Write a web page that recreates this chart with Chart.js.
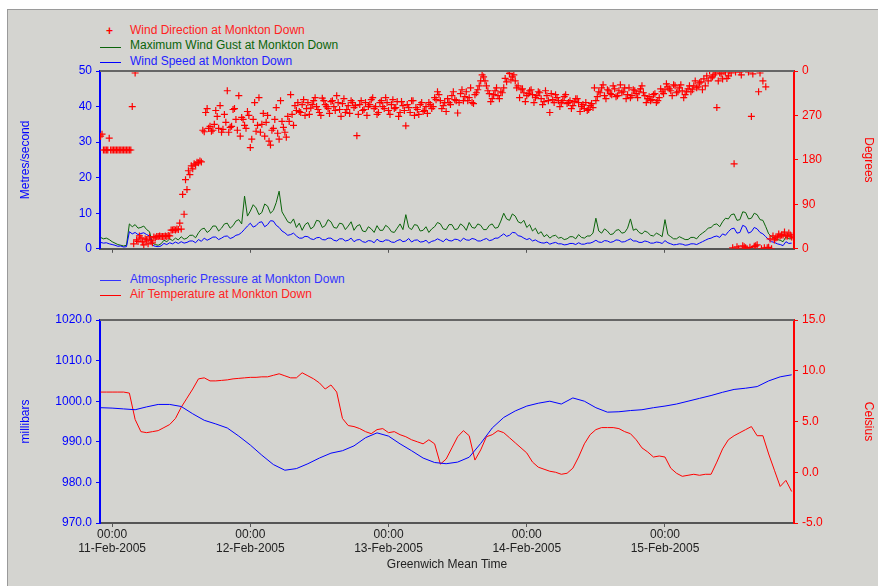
<!DOCTYPE html>
<html>
<head>
<meta charset="utf-8">
<script src="https://cdn.jsdelivr.net/npm/chart.js@4.4.1/dist/chart.umd.min.js"></script>
<style>
  html, body { margin: 0; padding: 0; background: #fff; }
  body { width: 878px; height: 586px; position: relative; overflow: hidden; font-family: "Liberation Sans", Arial, sans-serif; }
  #frame { position: absolute; left: 7px; top: 9px; right: -2px; bottom: -2px; background: #d4d4d0; border-left: 1px solid #9a9a9a; border-top: 1px solid #9a9a9a; }
  canvas { position: absolute; left: 0; }
  .key { position: absolute; left: 130px; font-size: 12px; line-height: 14px; white-space: nowrap; }
  .swatch { position: absolute; left: 100px; width: 21px; height: 1px; }
  .cross { position: absolute; left: 106px; font-size: 12px; font-weight: bold; line-height: 12px; color: #f00; }
</style>
</head>
<body>
<div id="frame"></div>

<div class="cross" style="top:25px">+</div>
<div class="key" style="top:23px; color:#f22">Wind Direction at Monkton Down</div>
<div class="swatch" style="top:47px; background:#0a640a"></div>
<div class="key" style="top:38px; color:#0a640a">Maximum Wind Gust at Monkton Down</div>
<div class="swatch" style="top:62px; background:#0000ff"></div>
<div class="key" style="top:54px; color:#22f">Wind Speed at Monkton Down</div>

<div class="swatch" style="top:280px; background:#3333ff"></div>
<div class="key" style="top:272px; color:#33f">Atmospheric Pressure at Monkton Down</div>
<div class="swatch" style="top:295px; background:#ff0000"></div>
<div class="key" style="top:287px; color:#f22">Air Temperature at Monkton Down</div>

<canvas id="wind" width="878" height="260" style="top:0"></canvas>
<canvas id="weather" width="878" height="326" style="top:260px"></canvas>

<script>
// hours relative to 11-Feb-2005 00:00 GMT
const X_MIN = -2.1
const X_MAX = 118.4

const tickHours = [0, 24, 48, 72, 96]
const tickTimes = ['00:00', '00:00', '00:00', '00:00', '00:00']
const tickDates = ['11-Feb-2005', '12-Feb-2005', '13-Feb-2005', '14-Feb-2005', '15-Feb-2005']

// wind speed + gust, every half hour from -2h (m/s), two values per row-hour
const windStart = -2
const windStep = 0.5
const windSpeed = [
  1.8, 1.6, 1.7, 1.4, 1.2, 1.0, 0.7, 0.8, 0.5, 0.6,       // -2 .. 2.5
  4.8, 4.2, 4.6, 4.0, 4.3, 4.5, 4.0, 3.6, 1.0, 0.7,       // 3 .. 7.5
  0.6, 0.8, 1.5, 1.2, 1.7, 1.4, 1.9, 1.5, 2.0, 1.6,       // 8 .. 12.5
  1.8, 2.2, 2.2, 1.7, 2.6, 2.1, 3.0, 2.4, 2.8, 3.3,       // 13 .. 17.5
  3.3, 2.6, 3.0, 3.5, 3.6, 2.9, 3.2, 3.8, 4.0, 4.6,       // 18 .. 22.5
  5.5, 6.4, 7.2, 6.1, 6.5, 7.4, 7.6, 6.2, 6.8, 7.9,       // 23 .. 27.5
  7.8, 6.6, 6.0, 5.0, 4.5, 3.8, 4.0, 4.4, 3.6, 3.0,       // 28 .. 32.5
  3.0, 3.5, 3.4, 2.8, 2.6, 3.1, 3.2, 2.6, 2.5, 3.0,       // 33 .. 37.5
  3.0, 2.4, 2.2, 2.8, 2.8, 2.2, 2.4, 3.0, 2.0, 2.5,       // 38 .. 42.5
  2.6, 2.0, 1.8, 2.3, 2.2, 1.7, 2.7, 2.1, 2.0, 2.5,       // 43 .. 47.5
  2.4, 1.9, 1.8, 2.3, 2.6, 2.0, 2.2, 2.9, 1.9, 2.4,       // 48 .. 52.5
  2.5, 1.9, 2.0, 2.4, 1.6, 2.1, 2.3, 2.8, 2.4, 2.0,       // 53 .. 57.5
  2.8, 2.3, 2.2, 2.7, 2.6, 2.1, 3.0, 2.5, 2.4, 2.9,       // 58 .. 62.5
  2.7, 2.2, 2.2, 2.6, 2.9, 2.3, 2.5, 3.0, 3.0, 3.6,       // 63 .. 67.5
  4.2, 3.5, 3.8, 4.6, 4.5, 3.7, 3.5, 3.0, 2.6, 2.9,       // 68 .. 72.5
  2.2, 2.5, 2.0, 1.7, 1.6, 1.9, 1.3, 1.6, 1.8, 1.4,       // 73 .. 77.5
  1.4, 1.1, 1.2, 1.5, 1.5, 1.2, 1.7, 1.3, 1.3, 1.6,       // 78 .. 82.5
  1.6, 1.9, 2.4, 1.9, 1.8, 2.3, 2.2, 1.8, 2.0, 2.5,       // 83 .. 87.5
  2.4, 1.9, 2.0, 2.4, 2.8, 2.2, 2.2, 1.8, 1.8, 2.2,       // 88 .. 92.5
  2.0, 1.6, 1.6, 1.9, 1.8, 1.5, 2.3, 1.7, 1.4, 1.1,       // 93 .. 97.5
  1.2, 1.4, 1.3, 1.0, 1.1, 1.4, 1.4, 1.2, 1.6, 2.0,       // 98 .. 102.5
  2.4, 2.8, 3.0, 3.4, 3.6, 3.2, 4.2, 3.8, 4.8, 5.6,       // 103 .. 107.5
  5.8, 4.4, 4.6, 6.6, 6.2, 4.4, 4.8, 6.0, 5.6, 4.6,       // 108 .. 112.5
  4.2, 3.4, 2.6, 2.0, 1.8, 1.4, 1.2, 0.9, 2.0, 1.5,       // 113 .. 117.5
  1.6                                                     // 118
]
const windGust = [
  3.2, 2.8, 3.0, 2.6, 2.0, 1.6, 1.2, 1.0, 0.8, 1.0,       // -2 .. 2.5
  7.0, 6.2, 6.8, 5.8, 6.0, 6.4, 5.4, 4.8, 1.6, 1.2,       // 3 .. 7.5
  1.0, 1.4, 2.4, 2.0, 2.8, 2.3, 3.0, 2.5, 3.4, 2.7,       // 8 .. 12.5
  3.0, 3.8, 3.8, 3.1, 4.5, 5.5, 5.8, 4.6, 5.2, 6.4,       // 13 .. 17.5
  6.4, 5.0, 5.8, 7.0, 7.2, 5.8, 6.5, 7.8, 8.2, 7.0,       // 18 .. 22.5
  14.8, 9.2, 10.6, 12.4, 11.5, 9.6, 10.2, 12.6, 12.0, 10.0, // 23 .. 27.5
  10.8, 13.0, 16.2, 10.4, 9.0, 7.6, 7.2, 8.4, 6.0, 7.2,   // 28 .. 32.5
  5.2, 6.8, 7.4, 5.6, 6.2, 8.0, 7.8, 6.0, 6.5, 8.2,       // 33 .. 37.5
  7.6, 6.0, 5.8, 7.2, 7.0, 5.4, 6.4, 7.6, 5.2, 6.4,       // 38 .. 42.5
  6.8, 5.0, 4.8, 6.2, 5.6, 4.6, 6.5, 5.2, 5.2, 6.6,       // 43 .. 47.5
  6.0, 4.8, 4.6, 5.8, 7.0, 5.4, 9.6, 6.0, 5.4, 6.8,       // 48 .. 52.5
  6.6, 5.0, 5.2, 6.2, 4.6, 5.6, 6.2, 7.4, 7.0, 5.6,       // 53 .. 57.5
  5.4, 6.8, 6.8, 5.4, 5.6, 7.0, 6.4, 5.2, 7.4, 6.0,       // 58 .. 62.5
  5.8, 7.0, 6.6, 5.4, 5.4, 6.6, 7.0, 5.8, 6.0, 7.8,       // 63 .. 67.5
  10.0, 8.4, 8.0, 9.8, 9.2, 7.6, 7.2, 8.0, 6.0, 6.8,      // 68 .. 72.5
  5.0, 5.8, 4.2, 4.8, 3.4, 4.0, 3.0, 3.6, 3.8, 3.0,       // 73 .. 77.5
  3.2, 2.6, 2.8, 3.4, 3.4, 2.8, 4.0, 3.2, 3.0, 3.6,       // 78 .. 82.5
  3.6, 4.4, 8.6, 5.0, 4.4, 5.6, 5.0, 4.0, 4.2, 5.2,       // 83 .. 87.5
  5.4, 4.4, 4.6, 5.8, 8.4, 5.2, 5.6, 4.6, 4.2, 5.0,       // 88 .. 92.5
  4.6, 3.8, 3.6, 4.4, 4.0, 3.4, 8.2, 4.0, 3.4, 2.8,       // 93 .. 97.5
  2.8, 3.4, 3.0, 2.6, 2.6, 3.2, 3.2, 2.8, 3.8, 4.4,       // 98 .. 102.5
  5.0, 5.8, 6.0, 6.8, 7.0, 6.2, 7.6, 8.6, 8.4, 9.6,       // 103 .. 107.5
  9.8, 8.0, 8.2, 10.4, 10.2, 8.4, 8.6, 10.0, 9.6, 8.2,    // 108 .. 112.5
  8.0, 6.2, 4.2, 3.4, 3.0, 2.6, 2.4, 2.0, 3.4, 2.8,       // 113 .. 117.5
  2.8                                                     // 118
]

// wind direction (degrees): readings on the hour / half hour from -2h ...
const dirStart = -2
const dirStep = 0.5
const windDirection = [
  228, 200, 200, 224, 200, 200, 200, 200, 200, 200, 200, 288, 356,   // -2 .. 3.5
  15, 22, 8, 18, 24, 12, 22,                                         // 4 .. 7
  25, 25, 25, 25, 26,                                                // 7.5 .. 9.5
  38, 38, 39, 40,                                                    // 10 .. 11.5
  70, 120, 150, 162, 170, 174, 176,                                  // 12 .. 15
  237, 284, 248, 240, 280, 244, 236, 272, 320, 246,                  // 15.5 ..
  282, 262, 310, 266, 250, 278, 205, 262, 238, 306,
  252, 228, 270, 210, 244, 286, 222, 258, 236, 268,
  312, 250, 280,                                                     // .. 31.5
  278, 292, 270, 296, 285, 300, 288, 276, 305, 292,                  // 32 ..
  284, 298, 288, 310, 282, 294, 276, 290, 300, 286,
  229, 292, 280, 296, 288, 302, 284, 272, 296, 288,
  306, 280, 292, 284, 298, 276, 290, 249, 286, 300,
  270, 282, 292, 278, 288, 296, 284, 306, 318, 300,
  290, 278,                                                          // .. 57.5
  296, 310, 302, 275, 314, 300, 318, 306, 296, 312,                  // 58 ..
  322, 340, 348, 330, 314, 304, 320, 310, 318, 326,
  338,                                                               // .. 68
  355, 348, 340, 330,                                                // 68.5 .. 70
  322, 316, 310, 320, 312, 306, 318, 304, 298, 310,                  // 70.5 ..
  276, 302, 312, 300, 296, 308, 294, 300, 290, 304,
  296, 288, 284, 280, 290, 286,                                      // .. 83
  300, 318, 326, 310, 322, 314, 330, 308, 320, 316,                  // 83.5 ..
  326, 312, 306, 322, 314, 318, 330, 310, 304, 300,
  312, 296, 306, 318,                                                // .. 95
  322, 328, 320, 332, 316, 326, 320, 312, 324, 318,                  // 95.5 ..
  330, 326, 336, 322, 330, 340,                                      // .. 103
  346, 352, 286, 356, 344, 358, 350, 356, 172, 4,                    // 103.5 ..
  358, 6, 2, 358, 268, 5, 8, 356, 340, 328,                          // .. 113
  3, 0, 18, 24, 26, 28, 26, 32, 24, 22                               // 113.5 .. 118
]
// ... and the readings at quarter past / quarter to, from -1.75h
const dirStartB = -1.75
const windDirectionB = [
  232, 200, 200, 200, 200, 200, 200, 200, 200, 200, 200,             // -1.75 .. 3.25
  10, 18, 26, 14, 20, 10, 16, 24,                                    // 3.75 .. 7.25
  25, 26, 25, 26, 27,                                                // 7.75 .. 9.75
  38, 39, 40, 52,                                                    // 10.25 .. 11.75
  110, 140, 158, 168, 172, 175, 178,                                 // 12.25 .. 15.25
  240, 276, 244, 238, 252, 268, 290, 242, 256, 236,                  // 15.75 ..
  248, 284, 240, 228, 262, 244, 270, 222, 296, 250,
  236, 274, 256, 218, 240, 262, 234, 300, 246, 226,
  258, 272, 290,                                                     // .. 31.75
  296, 276, 302, 284, 272, 292, 306, 282, 270, 300,                  // 32.25 ..
  288, 274, 300, 280, 296, 268, 304, 282, 274, 296,
  290, 272, 300, 282, 270, 292, 306, 288, 276, 300,
  284, 296, 272, 302, 286, 268, 298, 280, 292, 276,
  300, 286, 272, 296, 280, 274, 292, 288, 302, 312,
  284, 296,                                                          // .. 57.75
  304, 292, 318, 300, 296, 322, 308, 300, 326, 294,                  // 58.25 ..
  316, 330, 352, 340, 320, 298, 312, 326, 304, 316,
  345,                                                               // .. 68.25
  360, 342, 352, 326,                                                // 68.75 .. 70.25
  306, 324, 298, 314, 322, 296, 310, 316, 292, 320,                  // 70.75 ..
  300, 314, 296, 306, 288, 300, 312, 296, 284, 298,
  304, 278, 292, 296, 282, 294,                                      // .. 83.25
  326, 308, 316, 332, 304, 320, 312, 324, 310, 332,                  // 83.75 ..
  318, 304, 326, 310, 320, 306, 324, 316, 296, 308,
  302, 314, 300, 324,                                                // .. 95.25
  314, 334, 324, 310, 330, 318, 332, 306, 318, 330,                  // 95.75 ..
  322, 340, 328, 338, 344, 350,                                      // .. 103.25
  360, 348, 356, 340, 354, 360, 345, 360, 2, 358,                    // 103.75 ..
  0, 352, 4, 0, 3, 354, 6, 318, 0, 2,                                // .. 113.25
  2, 20, 26, 22, 30, 28, 34, 26, 28                                  // 113.75 .. 117.75
]

// pressure, every 2 hours from -2h (mb)
const pressStart = -2
const pressStep = 2
const pressure = [
  998.4, 998.3, 998.1, 997.9, 998.6, 999.2, 999.2, 998.7, 996.9, 995.3,
  994.4, 993.4, 991.4, 989.2, 986.7, 984.4, 983.0, 983.4, 984.6, 986.0,
  987.2, 987.8, 989.0, 991.0, 992.2, 991.4, 989.5, 987.8, 986.0, 984.9,
  984.6, 985.0, 986.2, 989.6, 993.4, 996.0, 997.6, 998.8, 999.5, 1000.0,
  999.3, 1000.8, 1000.0, 998.4, 997.3, 997.4, 997.7, 997.9, 998.4, 998.8,
  999.3, 1000.0, 1000.7, 1001.4, 1002.2, 1002.9, 1003.2, 1003.6, 1005.0, 1006.0,
  1006.5
]

// air temperature, hourly from -2h (C)
const tempStart = -2
const tempStep = 1
const temperature = [
  7.9, 7.9, 7.9, 7.9, 7.9, 7.8, 5.2, 4.0, 3.9, 4.0,
  4.1, 4.4, 4.7, 5.3, 6.4, 7.3, 8.2, 9.2, 9.3, 9.0,
  9.0, 9.05, 9.1, 9.2, 9.25, 9.3, 9.35, 9.35, 9.4, 9.4,
  9.55, 9.7, 9.5, 9.3, 9.3, 9.8, 9.5, 9.2, 8.8, 8.2,
  8.6, 7.9, 5.3, 4.6, 4.5, 4.3, 4.0, 3.8, 4.2, 4.3,
  3.9, 4.0, 3.7, 3.5, 3.2, 3.0, 2.8, 3.2, 2.8, 0.8,
  1.3, 2.4, 3.5, 4.1, 3.6, 1.2, 2.2, 3.5, 3.7, 4.1,
  3.9, 3.4, 2.9, 2.4, 1.9, 1.0, 0.5, 0.3, 0.1, 0.0,
  -0.2, -0.1, 0.4, 1.5, 2.8, 3.7, 4.2, 4.4, 4.4, 4.4,
  4.3, 4.0, 3.8, 3.2, 2.4, 2.0, 1.5, 1.6, 1.5, 0.4,
  -0.1, -0.4, -0.3, -0.2, -0.3, -0.2, -0.2, 1.0, 2.3, 3.2,
  3.6, 3.9, 4.2, 4.5, 3.6, 3.6, 1.8, 0.2, -1.4, -0.8,
  -1.9
]

const BLUE = '#0000ff'
const RED = '#ff0000'
const GREEN = '#0a640a'
const AXIS = '#555'
const font = { family: '"Liberation Sans", Arial, sans-serif', size: 12 }

function series(start, step, values) {
  return values.map((v, i) => ({ x: start + i * step, y: v }))
}

// grey line along the top of each plot area
const plotTop = {
  id: 'plotTop',
  afterDatasetsDraw(chart) {
    const { ctx, chartArea: a } = chart
    ctx.save()
    ctx.strokeStyle = '#666'
    ctx.lineWidth = 2
    ctx.beginPath()
    ctx.moveTo(a.left, a.top)
    ctx.lineTo(a.right, a.top)
    ctx.stroke()
    ctx.restore()
  }
}

function yAxis(position, color, min, max, step, title, fmt) {
  return {
    position: position,
    min: min,
    max: max,
    afterFit: s => { s.width = position === 'left' ? 100 : 84 },
    ticks: { stepSize: step, color: color, font: font, padding: 4, callback: fmt },
    grid: { drawOnChartArea: false, tickLength: 4, tickColor: color },
    border: { color: color, width: 2 },
    title: { display: true, text: title, color: color, font: font, padding: { top: position === 'left' ? 18 : 2 } }
  }
}

function xAxis(height, withLabels) {
  return {
    type: 'linear',
    min: X_MIN,
    max: X_MAX,
    afterBuildTicks: s => { s.ticks = tickHours.map(v => ({ value: v })) },
    afterFit: s => { s.height = height },
    ticks: {
      color: '#222',
      font: font,
      padding: 0,
      maxRotation: 0,
      autoSkip: false,
      callback: v => {
        const i = tickHours.indexOf(v)
        return withLabels && i >= 0 ? [tickTimes[i], tickDates[i]] : ''
      }
    },
    grid: { drawOnChartArea: false, tickLength: 4, tickColor: AXIS },
    border: { color: AXIS, width: 2 },
    title: { display: withLabels, text: 'Greenwich Mean Time', color: '#222', font: font, padding: { bottom: 14 } }
  }
}

const common = {
  responsive: false,
  animation: false,
  events: [],
  plugins: { legend: { display: false }, tooltip: { enabled: false } },
  elements: { point: { radius: 0 }, line: { tension: 0 } }
}

const crossStyle = {
  yAxisID: 'deg',
  showLine: false,
  pointStyle: 'cross',
  pointRadius: 3.5,
  borderColor: RED,
  borderWidth: 1.2,
  order: 0
}

new Chart(document.getElementById('wind'), {
  type: 'line',
  data: {
    datasets: [
      Object.assign({ label: 'Wind Direction at Monkton Down', data: series(dirStart, dirStep, windDirection) }, crossStyle),
      Object.assign({ label: 'Wind Direction at Monkton Down', data: series(dirStartB, dirStep, windDirectionB) }, crossStyle),
      {
        label: 'Maximum Wind Gust at Monkton Down',
        data: series(windStart, windStep, windGust),
        yAxisID: 'y',
        borderColor: GREEN,
        borderWidth: 1,
        order: 2
      },
      {
        label: 'Wind Speed at Monkton Down',
        data: series(windStart, windStep, windSpeed),
        yAxisID: 'y',
        borderColor: BLUE,
        borderWidth: 1,
        order: 1
      }
    ]
  },
  options: Object.assign({}, common, {
    layout: { padding: { top: 71, left: 0, right: 0, bottom: 0 } },
    scales: {
      x: xAxis(11, false),
      y: yAxis('left', BLUE, 0, 50, 10, 'Metres/second', v => v),
      deg: yAxis('right', RED, 0, 360, 90, 'Degrees', v => v % 360)
    }
  }),
  plugins: [plotTop]
})

new Chart(document.getElementById('weather'), {
  type: 'line',
  data: {
    datasets: [
      {
        label: 'Atmospheric Pressure at Monkton Down',
        data: series(pressStart, pressStep, pressure),
        yAxisID: 'y',
        borderColor: BLUE,
        borderWidth: 1
      },
      {
        label: 'Air Temperature at Monkton Down',
        data: series(tempStart, tempStep, temperature),
        yAxisID: 'temp',
        borderColor: RED,
        borderWidth: 1
      }
    ]
  },
  options: Object.assign({}, common, {
    layout: { padding: { top: 60, left: 0, right: 0, bottom: 0 } },
    scales: {
      x: xAxis(63, true),
      y: yAxis('left', BLUE, 970, 1020, 10, 'millibars', v => v.toFixed(1)),
      temp: yAxis('right', RED, -5, 15, 5, 'Celsius', v => v.toFixed(1))
    }
  }),
  plugins: [plotTop]
})
</script>
</body>
</html>
